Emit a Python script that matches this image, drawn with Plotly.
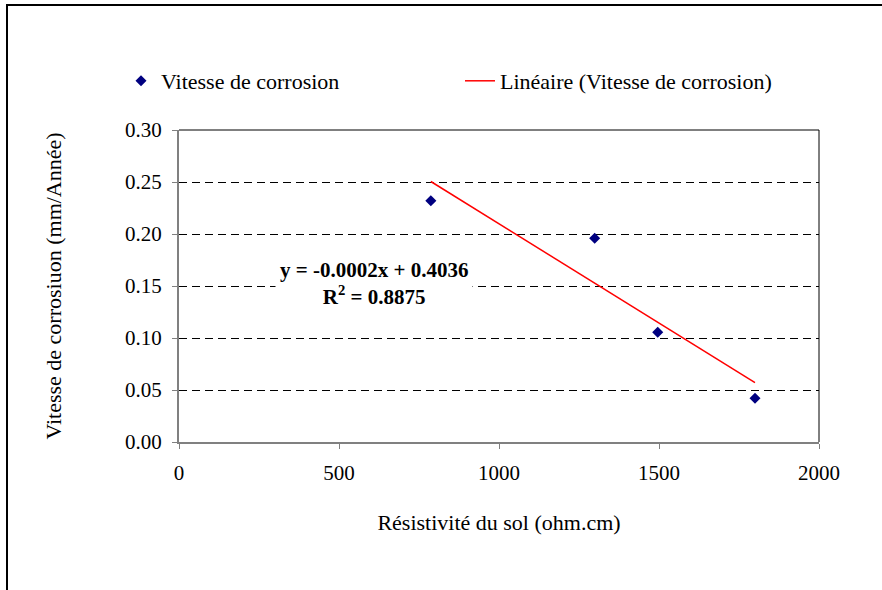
import numpy as np
import plotly.graph_objects as go

# Data
resistivite = [787, 1299, 1496, 1800]          # ohm.cm
vitesse = [0.232, 0.196, 0.1055, 0.042]         # mm/année

y_ticks = [0.00, 0.05, 0.10, 0.15, 0.20, 0.25, 0.30]
x_ticks = [0, 500, 1000, 1500, 2000]

equation_text = "y = -0.0002x + 0.4036"
r2_text = "R<sup>2</sup> = 0.8875"

FONT = "Liberation Serif, Times New Roman, serif"

# linear trendline through the data
slope, intercept = np.polyfit(resistivite, vitesse, 1)
trend_x = [min(resistivite), max(resistivite)]
trend_y = [slope * v + intercept for v in trend_x]

fig = go.Figure()
fig.add_trace(go.Scatter(
    x=resistivite, y=vitesse, mode="markers",
    name="Vitesse de corrosion",
    marker=dict(symbol="diamond", size=8.5, color="#000080"),
))
fig.add_trace(go.Scatter(
    x=trend_x, y=trend_y, mode="lines",
    name="Linéaire (Vitesse de corrosion)",
    line=dict(color="#FF0000", width=1.5),
))

W, H = 882, 590
L, R, T, B = 179, 63, 130, 148
pw, ph = W - L - R, H - T - B


def px(xp):
    return (xp - L) / pw


def py(yp):
    return (H - B - yp) / ph


fig.update_layout(
    width=W, height=H,
    margin=dict(l=L, r=R, t=T, b=B),
    paper_bgcolor="white", plot_bgcolor="white",
    font=dict(family=FONT, size=21, color="black"),
    showlegend=True,
    legend=dict(
        orientation="h", x=px(121), y=py(81), xanchor="left", yanchor="middle",
        font=dict(family=FONT, size=22, color="black"),
        entrywidth=294, entrywidthmode="pixels",
        bgcolor="rgba(0,0,0,0)",
    ),
    xaxis=dict(
        range=[0, 2000], tickvals=x_ticks, ticktext=[str(v) for v in x_ticks],
        showgrid=False, zeroline=False,
        showline=True, linecolor="#808080", linewidth=2,
        ticks="outside", ticklen=5, tickcolor="#808080", tickwidth=1,
        ticklabelstandoff=6,
        tickfont=dict(family=FONT, size=21),
        title=dict(text="Résistivité du sol (ohm.cm)", standoff=30,
                   font=dict(family=FONT, size=22)),
    ),
    yaxis=dict(
        range=[0, 0.30], tickvals=y_ticks, ticktext=[f"{v:.2f}" for v in y_ticks],
        showgrid=True, gridcolor="black", gridwidth=1, griddash="8px,5px",
        zeroline=False,
        showline=True, linecolor="#808080", linewidth=2,
        ticks="outside", ticklen=5, tickcolor="#808080", tickwidth=1,
        ticklabelstandoff=6,
        tickfont=dict(family=FONT, size=21),
        title=dict(text="Vitesse de corrosiuon (mm/Année)", standoff=57,
                   font=dict(family=FONT, size=22)),
    ),
    shapes=[
        # outer chart frame (left and top edges visible)
        dict(type="rect", xref="paper", yref="paper",
             x0=px(7), x1=px(900), y0=py(610), y1=py(5),
             line=dict(color="black", width=2), layer="below"),
        # plot area top and right borders
        dict(type="line", xref="paper", yref="paper", x0=0, x1=1, y0=1, y1=1,
             line=dict(color="black", width=1)),
        dict(type="line", xref="paper", yref="paper", x0=1, x1=1, y0=0, y1=1,
             line=dict(color="black", width=1)),
    ],
    annotations=[
        dict(x=608, y=0.152, xref="x", yref="y",
             text=f"<b>{equation_text}</b><br><b>{r2_text}</b>",
             showarrow=False, align="center",
             font=dict(family=FONT, size=21, color="black"),
             bgcolor="white", borderpad=4),
    ],
)

fig.write_html("out.html",
               config={"displayModeBar": False},
               post_script="document.body.style.margin='0';document.body.style.overflow='hidden';")
